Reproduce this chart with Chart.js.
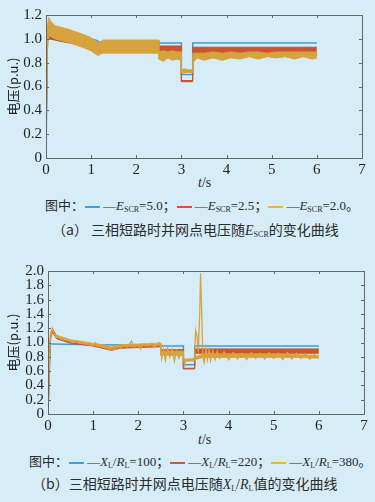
<!DOCTYPE html>
<html>
<head>
<meta charset="utf-8">
<script src="https://cdn.jsdelivr.net/npm/chart.js@4.4.0/dist/chart.umd.min.js"></script>
<style>
  body { margin: 0; width: 375px; height: 502px; overflow: hidden; position: relative;
         background: #d6edf8; color: #2b2b2b; font-family: "Liberation Serif", "DejaVu Serif", serif; }
  .plot { position: absolute; left: 0; width: 375px; height: 175px; }
  .txt { position: absolute; white-space: nowrap; font-size: 13px; line-height: 16px; }
  .cn { font-family: "Noto Sans CJK SC", sans-serif; }
  .sw { display: inline-block; width: 15px; height: 2px; vertical-align: middle; margin: 0 3px 0 1px; }
  sub { font-size: 8px; vertical-align: -2px; }
  i { font-style: italic; }
</style>
</head>
<body>
<div class="plot" style="top:0"><canvas id="chartA" width="375" height="175"></canvas></div>
<div class="txt" style="left:198px;top:175px;font-size:14px"><i>t</i>/s</div>
<div class="txt" style="left:45px;top:197px"><span class="cn">图中：</span><span class="sw" style="background:#2ea6e0"></span>—<i>E</i><sub>SCR</sub>=5.0<span class="cn">；</span><span class="sw" style="background:#d9523a"></span>—<i>E</i><sub>SCR</sub>=2.5<span class="cn">；</span><span class="sw" style="background:#f0b232"></span>—<i>E</i><sub>SCR</sub>=2.0<span class="cn">。</span></div>
<div class="txt" style="left:52px;top:221px;font-size:14px"><span class="cn">（a）&nbsp;三相短路时并网点电压随</span><i>E</i><sub>SCR</sub><span class="cn">的变化曲线</span></div>

<div class="plot" style="top:256px"><canvas id="chartB" width="375" height="175"></canvas></div>
<div class="txt" style="left:198px;top:432px;font-size:14px"><i>t</i>/s</div>
<div class="txt" style="left:29px;top:453px"><span class="cn">图中：</span><span class="sw" style="background:#2ea6e0"></span>—<i>X</i><sub>L</sub>/<i>R</i><sub>L</sub>=100<span class="cn">；</span><span class="sw" style="background:#d9523a"></span>—<i>X</i><sub>L</sub>/<i>R</i><sub>L</sub>=220<span class="cn">；</span><span class="sw" style="background:#f0b232"></span>—<i>X</i><sub>L</sub>/<i>R</i><sub>L</sub>=380<span class="cn">。</span></div>
<div class="txt" style="left:32px;top:475px;font-size:14px"><span class="cn">（b）三相短路时并网点电压随</span><i>X</i><sub>L</sub>/<i>R</i><sub>L</sub><span class="cn">值的变化曲线</span></div>

<script>
// (a) voltage vs E_SCR
const aBlueT = [0, 0.03, 1.1, 1.2, 2.5, 3.0, 3.0, 3.25, 3.25, 6.0];
const aBlueV = [0, 1.0, 0.99, 0.97, 0.965, 0.965, 0.70, 0.70, 0.965, 0.965];

const aRedT  = [0, 0.03, 0.08, 0.3, 0.6, 1.0, 1.15, 1.2, 1.3, 2.0, 2.5, 2.5, 3.0, 3.0, 3.25, 3.25, 4.0, 5.0, 6.0];
const aRedHi = [0, 1.08, 1.12, 1.06, 1.04, 1.0, 0.96, 0.95, 0.98, 0.98, 0.98, 0.94, 0.94, 0.65, 0.65, 0.93, 0.93, 0.93, 0.93];
const aRedLo = [0, 1.0, 1.0, 0.98, 0.96, 0.93, 0.9, 0.9, 0.92, 0.92, 0.92, 0.87, 0.87, 0.64, 0.64, 0.86, 0.86, 0.87, 0.86];

const aGoldT  = [0, 0.03, 0.06, 0.1, 0.2, 0.5, 0.8, 1.0, 1.15, 1.2, 1.25, 1.5, 2.0, 2.5, 2.5, 2.6, 2.7, 2.8, 2.9, 3.0, 3.0, 3.05, 3.15, 3.25, 3.25,
  3.35, 3.5, 3.7, 3.9, 4.1, 4.3, 4.5, 4.7, 4.9, 5.1, 5.3, 5.5, 5.7, 5.9, 6.0];
const aGoldHi = [0, 1.1, 1.18, 1.15, 1.11, 1.08, 1.04, 1.01, 0.97, 0.97, 0.99, 0.99, 0.99, 0.99, 0.89, 0.90, 0.89, 0.90, 0.89, 0.89, 0.73, 0.75, 0.74, 0.74, 0.88,
  0.88, 0.88, 0.89, 0.88, 0.89, 0.88, 0.89, 0.89, 0.88, 0.89, 0.89, 0.89, 0.89, 0.89, 0.89];
const aGoldLo = [0, 0.9, 1.02, 1.02, 1.0, 0.97, 0.93, 0.9, 0.86, 0.87, 0.88, 0.88, 0.88, 0.88, 0.83, 0.81, 0.84, 0.82, 0.83, 0.82, 0.715, 0.715, 0.72, 0.715, 0.80,
  0.84, 0.82, 0.84, 0.82, 0.84, 0.83, 0.85, 0.83, 0.85, 0.84, 0.85, 0.83, 0.85, 0.83, 0.84];

// (b) voltage vs X_L/R_L
const bBlueT = [0, 0.05, 0.1, 1.0, 2.5, 2.5, 3.0, 3.0, 3.25, 3.25, 6.0];
const bBlueV = [0, 0.98, 0.98, 0.97, 0.96, 0.95, 0.95, 0.69, 0.69, 0.95, 0.95];

const bRedT  = [0, 0.05, 0.1, 0.2, 0.5, 1.0, 1.4, 1.6, 2.0, 2.5, 2.5, 3.0, 3.0, 3.25, 3.25, 4.0, 5.0, 6.0];
const bRedHi = [0, 1.1, 1.19, 1.08, 1.02, 0.97, 0.92, 0.94, 0.95, 0.96, 0.90, 0.90, 0.64, 0.64, 0.91, 0.91, 0.91, 0.91];
const bRedLo = [0, 1.05, 1.14, 1.05, 0.99, 0.95, 0.89, 0.92, 0.93, 0.94, 0.84, 0.84, 0.63, 0.63, 0.85, 0.85, 0.85, 0.85];

const bGoldT = [0, 0.04, 0.07, 0.1, 0.13, 0.18, 0.25, 0.35, 0.45, 0.55, 0.65, 0.7, 0.8, 0.9, 1.0, 1.05, 1.1, 1.2, 1.3, 1.4,
  1.5, 1.55, 1.6, 1.7, 1.75, 1.85, 1.9, 2.0, 2.05, 2.1, 2.2, 2.3, 2.35, 2.45, 2.5, 2.52, 2.56, 2.6, 2.65, 2.7,
  2.75, 2.8, 2.85, 2.9, 2.95, 3.0, 3.02, 3.05, 3.1, 3.15, 3.2, 3.25, 3.27, 3.3, 3.33, 3.36, 3.38, 3.41, 3.43, 3.46,
  3.5, 3.53, 3.57, 3.6, 3.65, 3.7, 3.75, 3.8, 3.9, 4.0, 4.1, 4.2, 4.3, 4.4, 4.5, 4.6, 4.7, 4.8, 4.9, 5.0,
  5.1, 5.2, 5.3, 5.4, 5.5, 5.6, 5.7, 5.8, 5.9, 6.0];
const bGoldV = [0, 0.9, 1.15, 1.2, 1.12, 1.1, 1.06, 1.04, 1.03, 1.0, 1.02, 0.99, 0.99, 0.97, 0.96, 1.0, 0.95, 0.94, 0.92, 0.89,
  0.91, 0.96, 0.92, 0.97, 0.93, 1.02, 0.94, 0.96, 0.91, 0.98, 0.95, 0.99, 0.93, 1.0, 0.96, 0.78, 0.9, 0.75, 0.92, 0.8,
  0.9, 0.74, 0.88, 0.78, 0.86, 0.82, 0.68, 0.75, 0.74, 0.77, 0.76, 0.8, 1.17, 1.1, 0.86, 1.4, 1.97, 1.3, 0.8, 0.72,
  0.92, 0.76, 0.9, 0.75, 0.89, 0.76, 0.88, 0.78, 0.87, 0.76, 0.86, 0.77, 0.85, 0.76, 0.86, 0.78, 0.85, 0.77, 0.86, 0.78,
  0.85, 0.76, 0.86, 0.77, 0.85, 0.78, 0.84, 0.77, 0.83, 0.79];
// dense part of the gold trace (envelope of the fast ripple)
const bGoldBandT  = [0.15, 0.5, 1.0, 1.3, 1.4, 1.6, 2.0, 2.5, 2.5, 3.0, 3.0, 3.25, 3.25, 3.45, 3.6, 4.0, 4.5, 5.0, 5.5, 6.0];
const bGoldBandHi = [1.11, 1.04, 0.99, 0.96, 0.94, 0.97, 0.98, 0.99, 0.88, 0.88, 0.77, 0.77, 0.80, 0.84, 0.84, 0.84, 0.84, 0.84, 0.83, 0.82];
const bGoldBandLo = [1.08, 1.01, 0.96, 0.93, 0.91, 0.94, 0.95, 0.96, 0.82, 0.82, 0.74, 0.74, 0.76, 0.79, 0.79, 0.79, 0.79, 0.79, 0.79, 0.78];

const xTicks = [0, 1, 2, 3, 4, 5, 6, 7];

const BLUE = '#3e9bd8';
const RED = '#c9542e';
const GOLD = '#d6a33e';
const SERIF = "'Liberation Serif', 'DejaVu Serif', serif";

const pts = (ts, vs) => ts.map((t, i) => ({ x: t, y: vs[i] }));

const frame = {
  id: 'frame',
  afterDatasetsDraw(chart) {
    const { ctx, chartArea: a, scales: { x, y } } = chart;
    ctx.save();
    ctx.strokeStyle = '#666';
    ctx.lineWidth = 1;
    ctx.strokeRect(Math.round(a.left) + 0.5, Math.round(a.top) + 0.5,
      Math.round(a.right - a.left), Math.round(a.bottom - a.top));
    ctx.beginPath();
    x.ticks.forEach(t => {
      const px = Math.round(x.getPixelForValue(t.value)) + 0.5;
      ctx.moveTo(px, a.bottom); ctx.lineTo(px, a.bottom - 3);
      ctx.moveTo(px, a.top); ctx.lineTo(px, a.top + 3);
    });
    y.ticks.forEach(t => {
      const py = Math.round(y.getPixelForValue(t.value)) + 0.5;
      ctx.moveTo(a.left, py); ctx.lineTo(a.left + 3, py);
      ctx.moveTo(a.right, py); ctx.lineTo(a.right - 3, py);
    });
    ctx.stroke();
    ctx.restore();
  }
};

const makeChart = (id, yMax, yWidth, datasets) => new Chart(document.getElementById(id), {
  type: 'line',
  data: { datasets },
  options: {
    responsive: false,
    animation: false,
    layout: { padding: { top: 15, right: 375 - 362 - (yWidth - 46), left: 0, bottom: 0 } },
    plugins: { legend: { display: false }, tooltip: { enabled: false } },
    elements: { point: { radius: 0 }, line: { tension: 0 } },
    scales: {
      x: {
        type: 'linear', min: 0, max: 7,
        afterBuildTicks: s => { s.ticks = xTicks.map(v => ({ value: v })); },
        afterFit: s => { s.height = 17; },
        grid: { display: false, drawTicks: false }, border: { display: false },
        ticks: { padding: 3, color: '#222', font: { family: SERIF, size: 15 } }
      },
      y: {
        min: 0, max: yMax,
        afterFit: s => { s.width = yWidth; },
        grid: { display: false, drawTicks: false }, border: { display: false },
        ticks: {
          stepSize: 0.2, autoSkip: false, padding: 4, color: '#222',
          font: { family: SERIF, size: 15 },
          callback: v => (Math.abs(v) < 1e-9 ? '0' : v.toFixed(1))
        },
        title: {
          display: true, text: '电压(p.u.)', color: '#222',
          font: { family: "'Noto Sans CJK SC', sans-serif", size: 13 }, padding: { top: 5, bottom: 0 }
        }
      }
    }
  },
  plugins: [frame]
});

const band = (ts, hi, lo, color, w = 1) => [
  { data: pts(ts, hi), borderColor: color, backgroundColor: color, fill: '+1', borderWidth: w },
  { data: pts(ts, lo), borderColor: color, fill: false, borderWidth: w }
];

makeChart('chartA', 1.2, 46, [
  ...band(aGoldT, aGoldHi, aGoldLo, GOLD),
  ...band(aRedT, aRedHi, aRedLo, RED),
  { data: pts(aBlueT, aBlueV), borderColor: BLUE, borderWidth: 1.5, fill: false }
]);

makeChart('chartB', 2.0, 48, [
  { data: pts(bGoldT, bGoldV), borderColor: GOLD, borderWidth: 1.3, fill: false },
  ...band(bGoldBandT, bGoldBandHi, bGoldBandLo, GOLD, 0.8),
  ...band(bRedT, bRedHi, bRedLo, RED),
  { data: pts(bBlueT, bBlueV), borderColor: BLUE, borderWidth: 1.5, fill: false }
]);
</script>
</body>
</html>
